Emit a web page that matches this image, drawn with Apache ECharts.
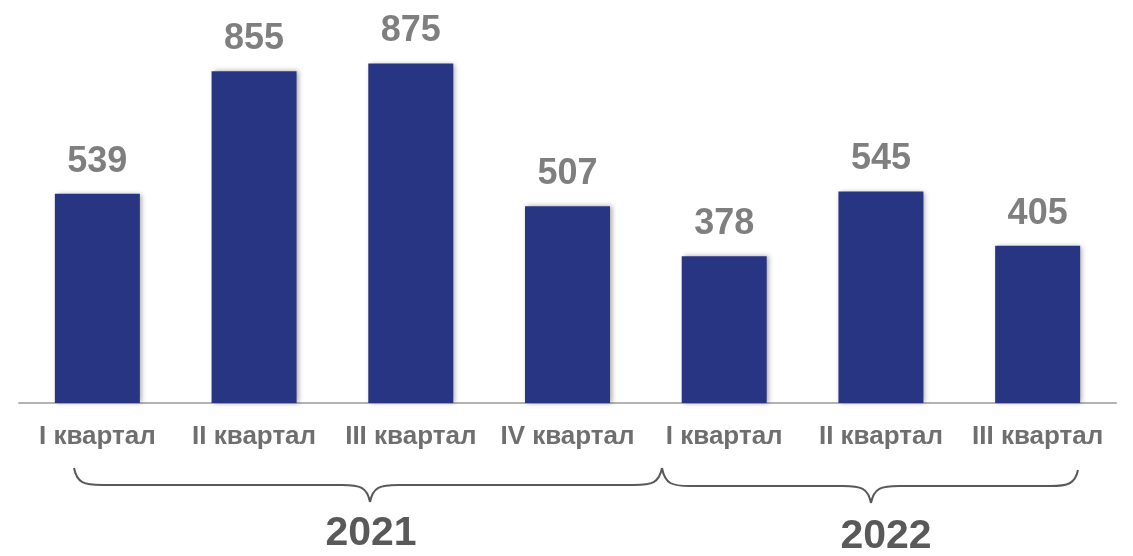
<!DOCTYPE html>
<html><head><meta charset="utf-8">
<script src="https://cdn.jsdelivr.net/npm/echarts@6/dist/echarts.min.js"></script>
<style>html,body{margin:0;padding:0;background:#fff}#c{width:1133px;height:556px}</style>
</head><body><div id="c"></div>
<script>
const categories = ['I квартал','II квартал','III квартал','IV квартал','I квартал','II квартал','III квартал'];
const values = [539, 855, 875, 507, 378, 545, 405];
const years = ['2021', '2022'];

const font = '"Liberation Sans", Arial, sans-serif';
const braceStyle = {fill:null, stroke:'#595959', lineWidth:2};
function brace(x0, y0, x1, y1, yh, xt, yt) {
  const r = 28;
  return [
    {type:'bezierCurve', shape:{x1:x0, y1:y0, x2:x0+r, y2:yh, cpx1:x0+3, cpy1:yh-2, cpx2:x0+10, cpy2:yh}, style:braceStyle},
    {type:'line', shape:{x1:x0+r, y1:yh, x2:xt-r, y2:yh}, style:braceStyle},
    {type:'bezierCurve', shape:{x1:xt-r, y1:yh, x2:xt, y2:yt, cpx1:xt-10, cpy1:yh, cpx2:xt-3, cpy2:yh+2}, style:braceStyle},
    {type:'bezierCurve', shape:{x1:xt, y1:yt, x2:xt+r, y2:yh, cpx1:xt+3, cpy1:yh+2, cpx2:xt+10, cpy2:yh}, style:braceStyle},
    {type:'line', shape:{x1:xt+r, y1:yh, x2:x1-r, y2:yh}, style:braceStyle},
    {type:'bezierCurve', shape:{x1:x1-r, y1:yh, x2:x1, y2:y1, cpx1:x1-10, cpy1:yh, cpx2:x1-3, cpy2:yh-2}, style:braceStyle}
  ];
}

const chart = echarts.init(document.getElementById('c'), null, {renderer:'canvas'});
chart.setOption({
  animation:false,
  grid:{left:19, right:17, top:15, bottom:153},
  xAxis:{type:'category', data:categories,
    axisLine:{lineStyle:{color:'#b3b3b3', width:2}},
    axisTick:{show:false},
    axisLabel:{color:'#6f6f6f', fontSize:26, fontWeight:'bold', fontFamily:font, margin:21, interval:0}},
  yAxis:{type:'value', min:0, max:1000, show:false, splitLine:{show:false}},
  series:[{type:'bar', data:values, barWidth:85,
    itemStyle:{color:'#283583', shadowColor:'rgba(0,0,0,0.35)', shadowBlur:5, shadowOffsetX:2},
    label:{show:true, position:'top', distance:14, color:'#7f7f7f', fontSize:36, fontWeight:'bold', fontFamily:font}}],
  graphic:[].concat(
    brace(74, 468, 662, 468, 485, 370, 502),
    brace(662, 468, 1078, 470, 486, 871, 503),
    [
      {type:'text', x:371, y:534, style:{text:years[0], fill:'#595959', font:'bold 41px '+font, textAlign:'center', textVerticalAlign:'middle'}},
      {type:'text', x:886, y:537, style:{text:years[1], fill:'#595959', font:'bold 41px '+font, textAlign:'center', textVerticalAlign:'middle'}}
    ])
});
</script></body></html>
